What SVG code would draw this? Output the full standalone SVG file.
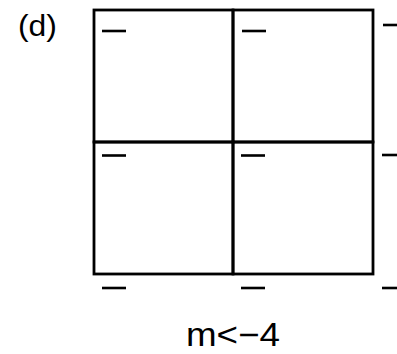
<svg xmlns="http://www.w3.org/2000/svg" width="397" height="354" viewBox="0 0 397 354">
<style>
.grid{fill:none;stroke:#000;stroke-width:2.8}
.dash{stroke:#000;stroke-width:2.6}
.lbl{font-family:"Liberation Sans","Open Sans",sans-serif;fill:#000}
</style>
<rect width="397" height="354" fill="#fff"/>
<text class="lbl" x="18" y="36" font-size="29" textLength="39" lengthAdjust="spacingAndGlyphs">(d)</text>
<g id="cell-tl"><rect class="grid" x="94" y="10" width="139" height="132"/></g>
<g id="cell-tr"><rect class="grid" x="233" y="10" width="140" height="132"/></g>
<g id="cell-bl"><rect class="grid" x="94" y="142" width="139" height="132"/></g>
<g id="cell-br"><rect class="grid" x="233" y="142" width="140" height="132"/></g>
<g id="connectors"></g>
<g id="signs">
<line class="dash" x1="102" y1="31" x2="126" y2="31"/>
<line class="dash" x1="242" y1="31" x2="266" y2="31"/>
<line class="dash" x1="383" y1="25" x2="397" y2="25"/>
<line class="dash" x1="102" y1="155.5" x2="126" y2="155.5"/>
<line class="dash" x1="241" y1="155.5" x2="265" y2="155.5"/>
<line class="dash" x1="382" y1="155" x2="397" y2="155"/>
<line class="dash" x1="102" y1="288" x2="126" y2="288"/>
<line class="dash" x1="241" y1="288" x2="265" y2="288"/>
<line class="dash" x1="382" y1="288" x2="397" y2="288"/>
</g>
<text class="lbl" x="186" y="346" font-size="33" textLength="94" lengthAdjust="spacingAndGlyphs">m&lt;−4</text>
</svg>
